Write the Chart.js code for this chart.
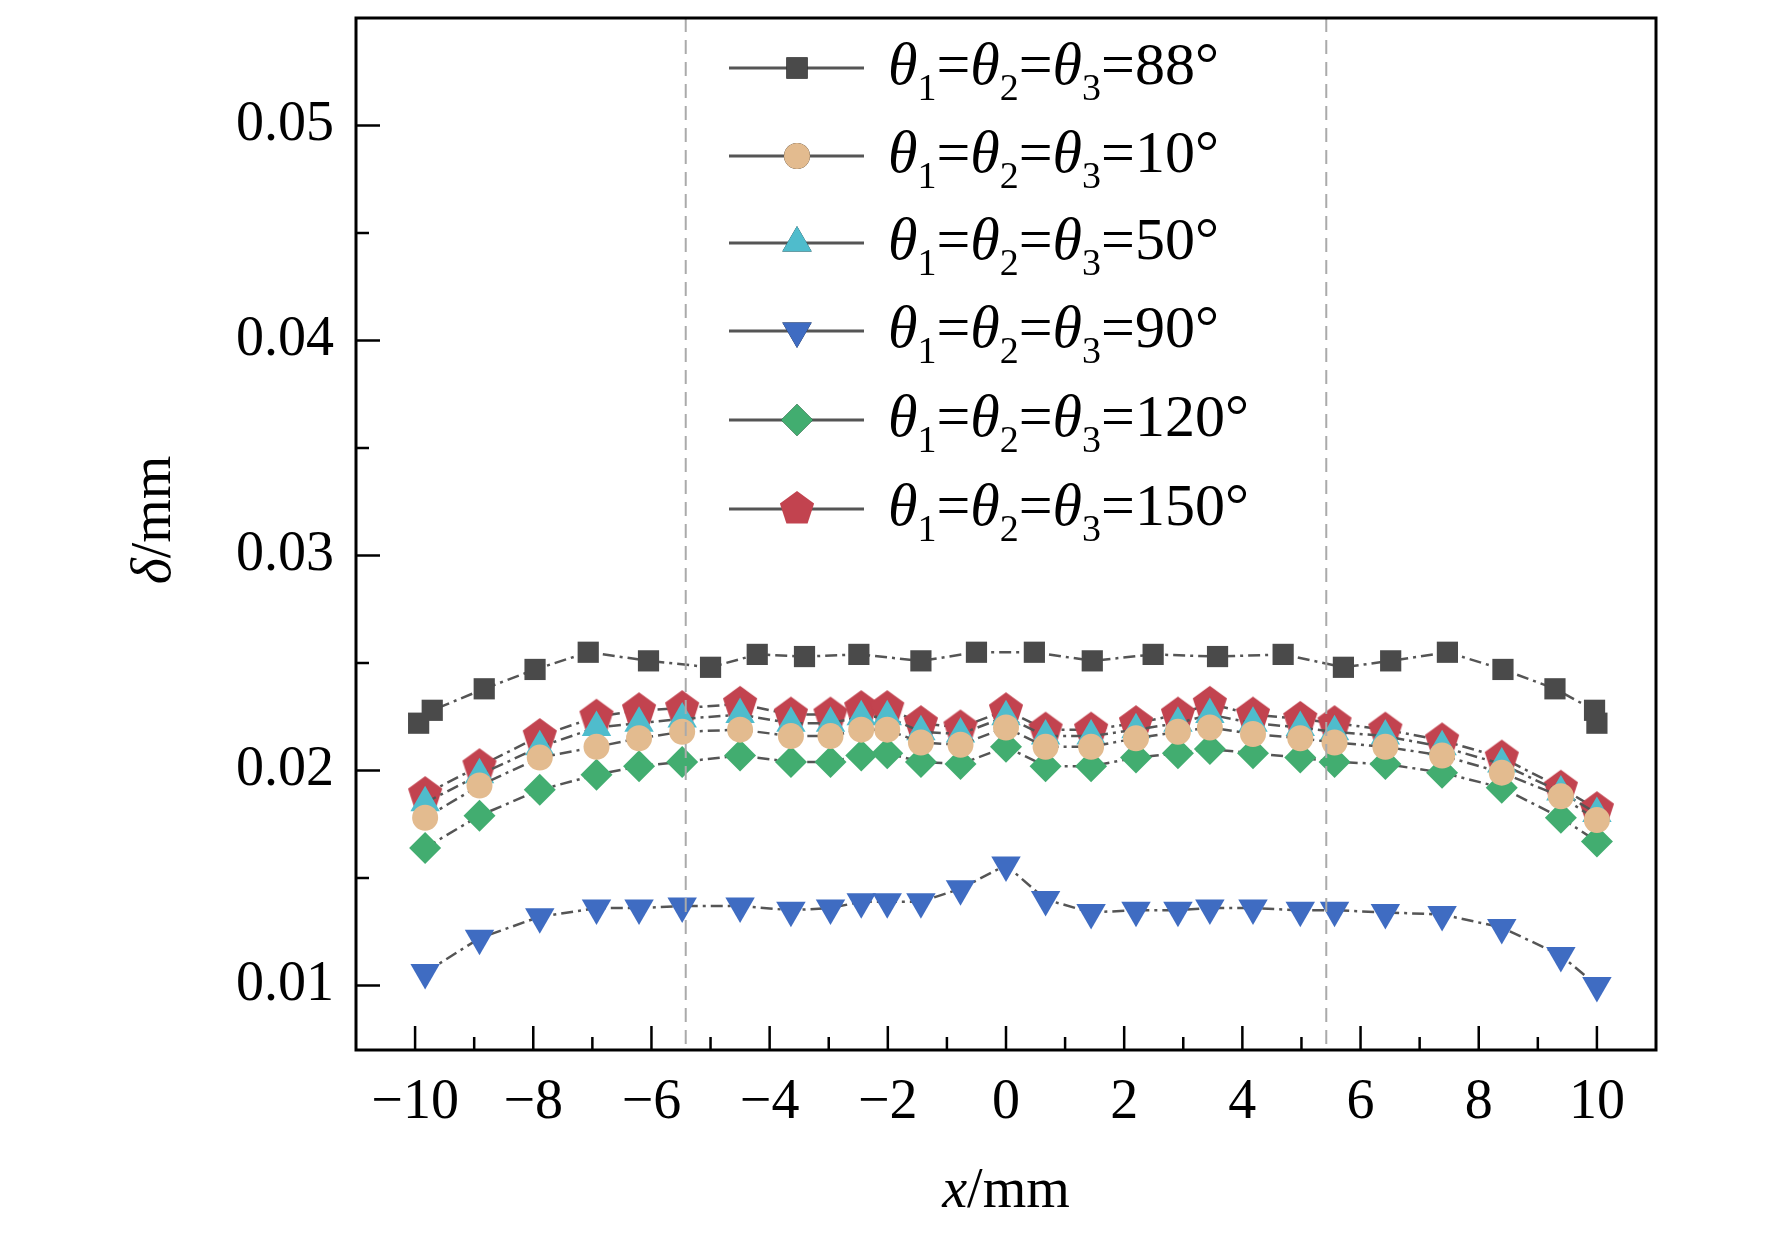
<!DOCTYPE html>
<html><head><meta charset="utf-8">
<script src="https://cdn.jsdelivr.net/npm/chart.js@4"></script>
<style>html,body{margin:0;background:#fff}#wrap{width:1772px;height:1235px}</style>
</head><body><div id="wrap"><canvas id="c"></canvas></div>
<script>
// x positions of the reading points
const xBlack = [-9.94,-9.71,-8.83,-7.97,-7.07,-6.05,-5.0,-4.21,-3.41,-2.49,-1.44,-0.5,0.48,1.46,2.49,3.58,4.69,5.71,6.51,7.47,8.41,9.29,9.96,10];
const xOther = [-9.83,-8.91,-7.89,-6.93,-6.21,-5.48,-4.5,-3.64,-2.97,-2.45,-2.01,-1.44,-0.77,0,0.67,1.44,2.2,2.91,3.45,4.18,4.98,5.56,6.42,7.38,8.39,9.39,10];
const xTicks = [-10,-8,-6,-4,-2,0,2,4,6,8,10];
const yTicks = [0.01,0.02,0.03,0.04,0.05];

const d88 = [0.0222,0.0228,0.0238,0.0247,0.0255,0.0251,0.0248,0.0254,0.0253,0.0254,0.0251,0.0255,0.0255,0.0251,0.0254,0.0253,0.0254,0.0248,0.0251,0.0255,0.0247,0.0238,0.0228,0.0222];
const d10 = [0.0178,0.0193,0.0206,0.0211,0.0215,0.0218,0.0219,0.0216,0.0216,0.0219,0.0219,0.0213,0.0212,0.0220,0.0211,0.0211,0.0215,0.0218,0.0220,0.0217,0.0215,0.0213,0.0211,0.0207,0.0199,0.0188,0.0177];
const d50 = [0.0185,0.0198,0.0211,0.0220,0.0222,0.0224,0.0226,0.0222,0.0222,0.0225,0.0225,0.0218,0.0217,0.0225,0.0216,0.0216,0.0219,0.0222,0.0226,0.0222,0.0220,0.0218,0.0216,0.0211,0.0203,0.0190,0.0180];
const d90 = [0.0106,0.0122,0.0132,0.0136,0.0136,0.0137,0.0137,0.0135,0.0136,0.0139,0.0139,0.0139,0.0145,0.0156,0.0140,0.0134,0.0135,0.0135,0.0136,0.0136,0.0135,0.0135,0.0134,0.0133,0.0127,0.0114,0.0100];
const d120 = [0.0164,0.0179,0.0191,0.0198,0.0202,0.0204,0.0207,0.0204,0.0204,0.0207,0.0208,0.0204,0.0203,0.0211,0.0202,0.0202,0.0206,0.0208,0.0210,0.0208,0.0206,0.0204,0.0203,0.0199,0.0192,0.0178,0.0167];
const d150 = [0.0189,0.0202,0.0216,0.0225,0.0228,0.0229,0.0231,0.0226,0.0226,0.0229,0.0229,0.0222,0.0220,0.0228,0.0219,0.0219,0.0222,0.0226,0.0231,0.0226,0.0224,0.0222,0.0219,0.0214,0.0206,0.0192,0.0182];

const angles = ['88','10','50','90','120','150'];
const colors = ['#4a4a4a','#e3bb8f','#4fbccc','#3f6cc2','#42ad70','#c2434f'];
const serif = '"Liberation Serif", "DejaVu Serif", serif';

function pentagon(color, r) {
  const cv = document.createElement('canvas');
  cv.width = cv.height = 2 * r + 4;
  const g = cv.getContext('2d');
  g.beginPath();
  for (let i = 0; i < 5; i++) {
    const a = -Math.PI / 2 + i * 2 * Math.PI / 5;
    g.lineTo(r + 2 + r * Math.cos(a), r + 2 + r * Math.sin(a));
  }
  g.closePath(); g.fillStyle = color; g.fill();
  return cv;
}
const pent = pentagon(colors[5], 18);
const styles = ['rect','circle','triangle','triangle','rectRot',pent];
const radii = [15, 13, 17, 17, 16, 18];

function pts(xs, ys) { return ys.map((y, i) => ({x: xs[i], y})); }
const sets = [d88, d10, d50, d90, d120, d150].map((d, i) => ({
  label: 'θ1=θ2=θ3=' + angles[i] + '°',
  data: pts(i === 0 ? xBlack : xOther, d),
  borderColor: '#555', borderWidth: 2.5, borderDash: [12, 5, 3, 5],
  backgroundColor: colors[i], pointBorderWidth: 0,
  pointStyle: styles[i], pointRadius: radii[i],
  pointRotation: i === 3 ? 180 : 0
}));

const extras = {
  id: 'extras',
  afterDatasetsDraw(ch) {
    const c = ch.ctx, a = ch.chartArea, xs = ch.scales.x, ys = ch.scales.y;
    c.save();
    // dashed guides
    c.strokeStyle = '#aaa'; c.lineWidth = 2; c.setLineDash([14, 8]);
    [-5.42, 5.42].forEach(v => { const px = xs.getPixelForValue(v); c.beginPath(); c.moveTo(px, a.top); c.lineTo(px, a.bottom); c.stroke(); });
    c.setLineDash([]);
    // frame
    c.strokeStyle = '#000'; c.lineWidth = 3;
    c.strokeRect(a.left, a.top, a.right - a.left, a.bottom - a.top);
    // inward ticks
    c.lineWidth = 2.5;
    for (let v = -10; v <= 10; v++) {
      const px = xs.getPixelForValue(v), len = v % 2 === 0 ? 24 : 13;
      c.beginPath(); c.moveTo(px, a.bottom); c.lineTo(px, a.bottom - len); c.stroke();
    }
    for (let k = 2; k <= 10; k++) {
      const v = k * 0.005, py = ys.getPixelForValue(v), len = k % 2 === 0 ? 24 : 13;
      c.beginPath(); c.moveTo(a.left, py); c.lineTo(a.left + len, py); c.stroke();
    }
    // axis titles
    c.fillStyle = '#000'; c.textBaseline = 'middle';
    c.font = 'italic 56px ' + serif;
    let w1 = c.measureText('x').width;
    c.font = '56px ' + serif;
    let w2 = c.measureText('/mm').width;
    let x0 = (a.left + a.right) / 2 - (w1 + w2) / 2;
    c.font = 'italic 56px ' + serif; c.textAlign = 'left'; c.fillText('x', x0, 1192);
    c.font = '56px ' + serif; c.fillText('/mm', x0 + w1, 1192);
    c.translate(155, 520); c.rotate(-Math.PI / 2);
    c.font = 'italic 56px ' + serif; w1 = c.measureText('δ').width;
    c.font = '56px ' + serif; w2 = c.measureText('/mm').width;
    x0 = -(w1 + w2) / 2;
    c.font = 'italic 56px ' + serif; c.fillText('δ', x0, 0);
    c.font = '56px ' + serif; c.fillText('/mm', x0 + w1, 0);
    c.setTransform(1, 0, 0, 1, 0, 0);
    // legend
    const rows = [68, 156, 243, 331, 420, 509];
    ch.data.datasets.forEach((ds, i) => {
      const y = rows[i];
      c.strokeStyle = '#555'; c.lineWidth = 3;
      c.beginPath(); c.moveTo(729, y); c.lineTo(864, y); c.stroke();
      Chart.helpers.drawPoint(c, {pointStyle: ds.pointStyle, radius: ds.pointRadius, rotation: ds.pointRotation, borderWidth: 0}, 797, y);
      c.fillStyle = ds.backgroundColor; c.fill();
      let x = 888;
      const parts = [['θ','i'],['1','s'],['=',''],['θ','i'],['2','s'],['=',''],['θ','i'],['3','s'],['=' + angles[i] + '°','']];
      c.fillStyle = '#000'; c.textBaseline = 'middle';
      parts.forEach(([t, s]) => {
        if (s === 's') { c.font = '38px ' + serif; c.fillText(t, x, y + 22); }
        else { c.font = (s === 'i' ? 'italic ' : '') + '60px ' + serif; c.fillText(t, x, y); }
        x += c.measureText(t).width;
      });
    });
    c.restore();
  }
};

new Chart(document.getElementById('c'), {
  type: 'line',
  data: { datasets: sets },
  plugins: [extras],
  options: {
    responsive: true, maintainAspectRatio: false, animation: false,
    layout: { padding: { left: 0, right: 116, top: 2, bottom: 0 } },
    plugins: { legend: { display: false }, tooltip: { enabled: false } },
    scales: {
      x: {
        type: 'linear', min: -11, max: 11,
        afterFit: s => { s.height = 185; s.paddingLeft = 0; s.paddingRight = 0; },
        afterBuildTicks: s => { s.ticks = xTicks.map(v => ({value: v})); },
        grid: { display: false, drawTicks: false }, border: { display: false },
        ticks: { padding: 20, color: '#000', font: { family: serif, size: 56 },
          callback: v => String(v).replace('-', '−') }
      },
      y: {
        min: 0.007, max: 0.055,
        afterFit: s => { s.width = 356; s.paddingTop = 0; s.paddingBottom = 0; },
        afterBuildTicks: s => { s.ticks = yTicks.map(v => ({value: v})); },
        grid: { display: false, drawTicks: false }, border: { display: false },
        ticks: { padding: 22, color: '#000', font: { family: serif, size: 56 }, callback: v => v.toFixed(2) }
      }
    }
  }
});
</script></body></html>
